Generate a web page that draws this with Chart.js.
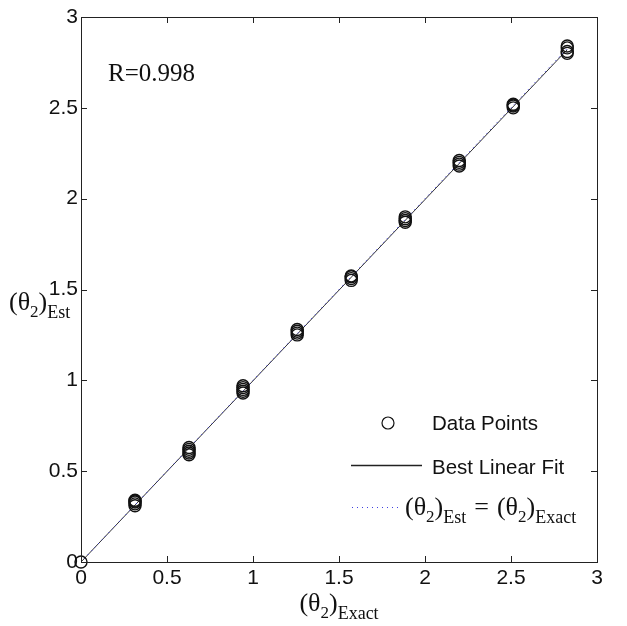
<!DOCTYPE html>
<html>
<head>
<meta charset="utf-8">
<script src="https://cdn.jsdelivr.net/npm/chart.js@4.4.0/dist/chart.umd.min.js"></script>
<style>
  html, body { margin: 0; padding: 0; background: #fff; }
  #wrap { width: 627px; height: 626px; position: relative; }
</style>
</head>
<body>
<div id="wrap"><canvas id="c" width="627" height="626"></canvas></div>
<script>
// ---- data ----
const exactAngles = [0, 0.314, 0.314, 0.314, 0.314, 0.314,
  0.628, 0.628, 0.628, 0.628, 0.628,
  0.942, 0.942, 0.942, 0.942, 0.942,
  1.257, 1.257, 1.257, 1.257,
  1.571, 1.571, 1.571, 1.571,
  1.885, 1.885, 1.885, 1.885,
  2.199, 2.199, 2.199, 2.199,
  2.513, 2.513, 2.513, 2.513,
  2.827, 2.827, 2.827, 2.827];
const estAngles = [0, 0.31, 0.32, 0.33, 0.34, 0.335,
  0.59, 0.60, 0.61, 0.62, 0.63,
  0.93, 0.94, 0.95, 0.96, 0.97,
  1.25, 1.26, 1.27, 1.28,
  1.55, 1.56, 1.57, 1.575,
  1.87, 1.88, 1.89, 1.90,
  2.18, 2.19, 2.20, 2.21,
  2.50, 2.51, 2.515, 2.52,
  2.80, 2.81, 2.83, 2.84];
const fitX = [0, 2.827];
const fitY = [0, 2.82];
const identityX = [0, 2.827];
const identityY = [0, 2.827];
const tickValues = [0, 0.5, 1, 1.5, 2, 2.5, 3];
const rLabel = 'R=0.998';
const legendLabels = ['Data Points', 'Best Linear Fit'];

const pts = exactAngles.map((x, i) => ({x: x, y: estAngles[i]}));
const fit = fitX.map((x, i) => ({x: x, y: fitY[i]}));
const ident = identityX.map((x, i) => ({x: x, y: identityY[i]}));

const SANS = '"Liberation Sans", Arial, sans-serif';
const SERIF = '"Liberation Serif", "Times New Roman", serif';

function drawSubLabel(ctx, x, baseline, parts) {
  let cx = x;
  for (const [t, size, dy] of parts) {
    ctx.font = size + 'px ' + SERIF;
    ctx.fillText(t, cx, baseline + dy);
    cx += ctx.measureText(t).width;
  }
  return cx;
}
function measureSub(ctx, parts) {
  let w = 0;
  for (const [t, size] of parts) { ctx.font = size + 'px ' + SERIF; w += ctx.measureText(t).width; }
  return w;
}
function thetaParts(sub) {
  return [['(θ', 26, 0], ['2', 17, 7], [')', 26, 0], [sub, 18, 8]];
}

const decor = {
  id: 'decor',
  afterDraw(chart) {
    const ctx = chart.ctx;
    const a = chart.chartArea;
    const xs = chart.scales.x, ys = chart.scales.y;
    ctx.save();
    ctx.strokeStyle = '#222';
    ctx.lineWidth = 1;
    ctx.strokeRect(Math.round(a.left) + 0.5, Math.round(a.top) + 0.5, Math.round(a.right - a.left), Math.round(a.bottom - a.top));
    ctx.beginPath();
    for (const v of tickValues) {
      const px = Math.round(xs.getPixelForValue(v)) + 0.5;
      ctx.moveTo(px, a.bottom); ctx.lineTo(px, a.bottom - 6);
      ctx.moveTo(px, a.top); ctx.lineTo(px, a.top + 6);
      const py = Math.round(ys.getPixelForValue(v)) + 0.5;
      ctx.moveTo(a.left, py); ctx.lineTo(a.left + 6, py);
      ctx.moveTo(a.right, py); ctx.lineTo(a.right - 6, py);
    }
    ctx.stroke();

    ctx.fillStyle = '#111';
    ctx.textBaseline = 'alphabetic';
    ctx.textAlign = 'left';
    ctx.font = '25px ' + SERIF;
    ctx.fillText(rLabel, 108, 81);

    const xp = thetaParts('Exact');
    const xw = measureSub(ctx, xp);
    drawSubLabel(ctx, (a.left + a.right) / 2 - xw / 2, 611, xp);
    drawSubLabel(ctx, 9, 310, thetaParts('Est'));

    // legend
    ctx.strokeStyle = '#111';
    ctx.lineWidth = 1.2;
    ctx.beginPath();
    ctx.arc(388, 423, 6, 0, Math.PI * 2);
    ctx.stroke();
    ctx.font = '20.5px ' + SANS;
    ctx.fillText(legendLabels[0], 432, 430);
    ctx.beginPath();
    ctx.moveTo(351, 465.5); ctx.lineTo(422, 465.5);
    ctx.strokeStyle = '#222';
    ctx.lineWidth = 1.5;
    ctx.stroke();
    ctx.fillText(legendLabels[1], 432, 474);
    ctx.strokeStyle = '#4040e0';
    ctx.lineWidth = 1;
    ctx.setLineDash([1, 4]);
    ctx.beginPath();
    ctx.moveTo(352, 507.5); ctx.lineTo(401, 507.5);
    ctx.stroke();
    ctx.setLineDash([]);
    const end = drawSubLabel(ctx, 405, 515, thetaParts('Est'));
    ctx.font = '26px ' + SERIF;
    ctx.fillText('=', end + 8, 515);
    const eq = ctx.measureText('=').width;
    drawSubLabel(ctx, end + 16 + eq, 515, thetaParts('Exact'));
    ctx.restore();
  }
};

new Chart(document.getElementById('c'), {
  type: 'scatter',
  data: {
    datasets: [
      { label: 'Data Points', data: pts, showLine: false, pointStyle: 'circle', pointRadius: 6, clip: false,
        pointBackgroundColor: 'rgba(0,0,0,0)', pointBorderColor: '#111', pointBorderWidth: 1.4, pointHoverRadius: 6 },
      { label: 'identity', data: ident, showLine: true, pointRadius: 0, borderColor: '#3030e0',
        borderWidth: 1, borderDash: [1, 4] },
      { label: 'Best Linear Fit', data: fit, showLine: true, pointRadius: 0, borderColor: '#333',
        borderWidth: 1 }
    ]
  },
  options: {
    responsive: false,
    animation: false,
    events: [],
    layout: { autoPadding: false, padding: { left: 0, right: 30, top: 17, bottom: 0 } },
    plugins: { legend: { display: false }, tooltip: { enabled: false } },
    scales: {
      x: {
        type: 'linear', min: 0, max: 3,
        afterFit(s) { s.height = 64; },
        afterBuildTicks(s) { s.ticks = tickValues.map(v => ({value: v})); },
        grid: { display: false, drawTicks: false },
        border: { display: false },
        ticks: { padding: 4, color: '#111', font: { family: SANS, size: 21 }, maxRotation: 0,
          callback: v => String(v) }
      },
      y: {
        type: 'linear', min: 0, max: 3,
        afterFit(s) { s.width = 81; },
        afterBuildTicks(s) { s.ticks = tickValues.map(v => ({value: v})); },
        grid: { display: false, drawTicks: false },
        border: { display: false },
        ticks: { padding: 3, color: '#111', font: { family: SANS, size: 21 },
          callback: v => String(v) }
      }
    }
  },
  plugins: [decor]
});
</script>
</body>
</html>
